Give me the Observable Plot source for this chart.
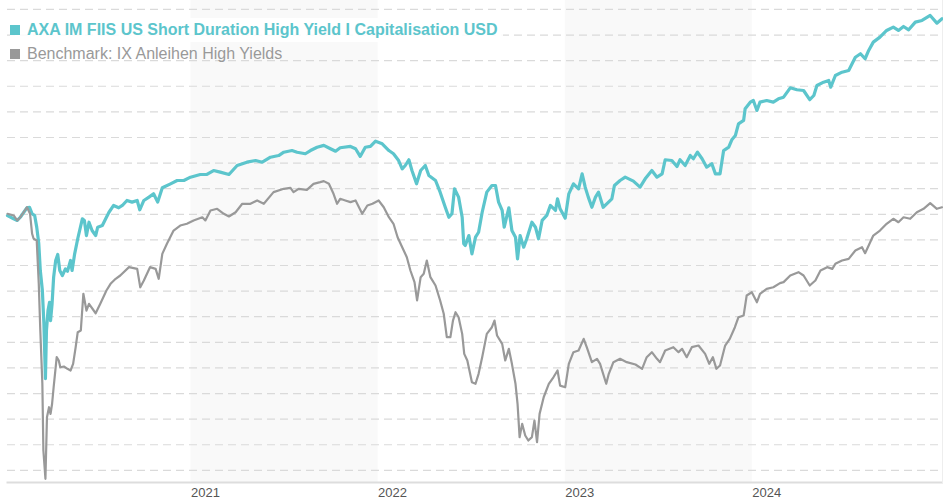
<!DOCTYPE html>
<html>
<head>
<meta charset="utf-8">
<script src="https://cdn.jsdelivr.net/npm/d3@7"></script>
<script src="https://cdn.jsdelivr.net/npm/@observablehq/plot@0.6"></script>
<style>
  html, body { margin: 0; padding: 0; background: #fff; }
  #wrap { position: relative; width: 943px; height: 500px; font-family: "Liberation Sans", Arial, sans-serif; }
  #legend { position: absolute; left: 10px; top: 17.5px; font-size: 16px; line-height: 24px; }
  .row { display: block; white-space: nowrap; }
  .row span.box { display: inline-block; width: 10px; height: 10px; margin-right: 7px; vertical-align: 0px; }
  .row1 { display: inline-block; background: rgba(255,255,255,0.88); padding-right: 5px; font-weight: bold; }
</style>
</head>
<body>
<div id="wrap"><div id="chart"></div><div id="legend"></div></div>
<script>
// ---- data (performance in %) ----
const seriesNames = [
  "AXA IM FIIS US Short Duration High Yield I Capitalisation USD",
  "Benchmark: IX Anleihen High Yields"
];
const seriesColors = ["#5cc5cc", "#999999"];
const yearTicks = ["2021", "2022", "2023", "2024"];
const shadedYears = ["2021", "2023"];
const gridValues = [-20, -18, -16, -14, -12, -10, -8, -6, -4, -2, 0, 2, 4, 6, 8, 10, 12, 14, 16];
const xDomain = ["2020-01-09", "2025-01-06"];
const yDomain = [-20.95, 16.7];

const fundSeries = [
  ["2020-01-09",-0.1],["2020-01-21",-0.35],["2020-01-28",-0.48],["2020-02-03",-0.23],["2020-02-16",0.51],
  ["2020-02-21",0.55],["2020-02-26",0.04],["2020-03-02",-0.1],["2020-03-06",-1.0],["2020-03-10",-2.28],
  ["2020-03-13",-4.39],["2020-03-17",-5.95],["2020-03-20",-8.53],["2020-03-23",-12.83],["2020-03-25",-9.08],
  ["2020-03-28",-7.52],["2020-03-31",-6.87],["2020-04-02",-8.3],["2020-04-05",-6.97],["2020-04-08",-4.91],
  ["2020-04-12",-3.61],["2020-04-16",-3.14],["2020-04-20",-4.39],["2020-04-25",-4.78],["2020-05-01",-4.26],
  ["2020-05-05",-4.45],["2020-05-11",-3.61],["2020-05-14",-4.39],["2020-05-19",-3.09],["2020-05-25",-1.91],
  ["2020-06-03",-0.35],["2020-06-07",-0.48],["2020-06-11",-1.66],["2020-06-16",-0.62],["2020-06-22",-1.27],
  ["2020-06-29",-1.66],["2020-07-03",-1.01],["2020-07-12",-0.88],["2020-07-20",-0.23],["2020-07-25",0.16],
  ["2020-08-03",0.69],["2020-08-13",0.51],["2020-08-20",0.69],["2020-08-29",1.08],["2020-09-08",0.95],
  ["2020-09-18",1.08],["2020-09-23",0.35],["2020-10-01",1.08],["2020-10-11",1.34],["2020-10-20",1.6],
  ["2020-10-28",0.95],["2020-11-06",2.07],["2020-11-22",2.38],["2020-12-05",2.64],["2020-12-18",2.64],
  ["2020-12-31",2.9],
  ["2021-01-19",3.11],["2021-02-01",3.11],["2021-02-14",3.42],["2021-02-27",3.29],["2021-03-16",3.11],
  ["2021-04-01",3.81],["2021-04-20",4.07],["2021-05-07",4.2],["2021-05-20",4.07],["2021-06-05",4.46],
  ["2021-06-21",4.59],["2021-07-01",4.85],["2021-07-17",4.98],["2021-07-27",4.85],["2021-08-12",4.73],
  ["2021-08-22",4.98],["2021-09-04",5.24],["2021-09-17",5.38],["2021-09-30",5.12],["2021-10-10",4.93],
  ["2021-10-19",5.2],["2021-11-08",5.3],["2021-11-18",5.12],["2021-11-27",4.52],["2021-12-07",5.24],
  ["2021-12-17",5.3],["2021-12-27",5.71],
  ["2022-01-09",5.51],["2022-01-22",4.98],["2022-01-31",4.73],["2022-02-10",4.2],["2022-02-17",3.55],
  ["2022-02-23",3.81],["2022-03-02",4.26],["2022-03-08",3.42],["2022-03-17",2.38],["2022-03-25",3.42],
  ["2022-04-03",3.81],["2022-04-10",3.03],["2022-04-23",2.64],["2022-05-02",1.73],["2022-05-12",0.55],
  ["2022-05-19",-0.23],["2022-05-25",0.04],["2022-05-30",1.99],["2022-06-07",1.34],["2022-06-14",-0.23],
  ["2022-06-17",-2.3],["2022-06-20",-2.44],["2022-06-27",-1.66],["2022-07-03",-3.09],["2022-07-10",-1.79],
  ["2022-07-16",-1.4],["2022-07-23",0.16],["2022-08-01",1.73],["2022-08-11",2.25],["2022-08-18",2.25],
  ["2022-08-24",0.95],["2022-08-31",0.3],["2022-09-04",-1.01],["2022-09-13",0.51],["2022-09-19",-1.27],
  ["2022-09-26",-1.79],["2022-09-30",-3.48],["2022-10-05",-1.66],["2022-10-12",-2.57],["2022-10-18",-1.91],
  ["2022-10-28",-0.62],["2022-11-04",-1.01],["2022-11-10",-1.91],["2022-11-17",-0.48],["2022-11-26",-0.09],
  ["2022-12-03",0.69],["2022-12-13",0.3],["2022-12-17",1.21],["2022-12-22",0.43],["2023-01-01",-0.3],
  ["2023-01-08",1.6],["2023-01-17",2.38],["2023-01-27",1.99],["2023-02-03",3.16],["2023-02-09",2.12],
  ["2023-02-15",1.34],["2023-02-22",0.55],["2023-03-01",1.34],["2023-03-07",1.73],["2023-03-16",0.55],
  ["2023-03-23",0.82],["2023-04-02",1.21],["2023-04-07",2.25],["2023-04-18",2.64],["2023-04-28",2.9],
  ["2023-05-14",2.59],["2023-05-27",2.12],["2023-06-06",2.77],["2023-06-19",3.42],["2023-06-29",2.9],
  ["2023-07-09",3.16],["2023-07-15",4.26],["2023-07-28",4.2],["2023-08-07",3.73],["2023-08-13",4.26],
  ["2023-08-23",3.81],["2023-09-02",4.59],["2023-09-08",4.34],["2023-09-16",4.85],["2023-09-25",4.34],
  ["2023-10-04",3.68],["2023-10-14",3.95],["2023-10-21",3.16],["2023-10-30",3.16],["2023-11-06",4.98],
  ["2023-11-16",5.24],["2023-11-22",5.82],["2023-11-29",6.16],["2023-12-05",7.07],["2023-12-15",7.33],
  ["2023-12-18",8.24],["2023-12-28",8.76],
  ["2024-01-03",8.89],["2024-01-10",8.11],["2024-01-16",8.76],["2024-01-29",8.89],["2024-02-11",8.76],
  ["2024-02-21",9.02],["2024-03-02",9.15],["2024-03-15",9.88],["2024-03-28",9.73],["2024-04-10",9.67],
  ["2024-04-22",8.95],["2024-04-30",9.28],["2024-05-06",10.06],["2024-05-19",10.32],["2024-05-29",10.45],
  ["2024-06-02",9.93],["2024-06-11",10.84],["2024-06-24",11.1],["2024-07-07",11.23],["2024-07-20",12.27],
  ["2024-07-30",12.54],["2024-08-08",12.15],["2024-08-15",12.8],["2024-08-24",13.45],["2024-09-06",13.84],
  ["2024-09-19",14.36],["2024-10-02",14.62],["2024-10-12",14.36],["2024-10-22",14.67],["2024-11-01",14.41],
  ["2024-11-14",15.01],["2024-11-27",15.14],["2024-12-13",15.53],["2024-12-26",14.93],["2025-01-05",15.27]
];

const benchSeries = [
  ["2020-01-09",0.04],["2020-01-21",-0.09],["2020-01-28",-0.48],["2020-02-03",-0.23],["2020-02-16",0.55],
  ["2020-02-22",0.04],["2020-02-26",-1.52],["2020-02-29",-1.91],["2020-03-06",-2.05],["2020-03-10",-5.43],
  ["2020-03-13",-9.08],["2020-03-17",-13.24],["2020-03-19",-18.45],["2020-03-23",-20.66],["2020-03-26",-15.85],
  ["2020-03-30",-15.07],["2020-04-02",-15.59],["2020-04-05",-14.8],["2020-04-08",-13.51],["2020-04-14",-11.16],
  ["2020-04-18",-11.42],["2020-04-21",-11.95],["2020-04-28",-11.89],["2020-05-05",-12.07],["2020-05-11",-12.2],
  ["2020-05-16",-11.68],["2020-05-21",-10.38],["2020-05-25",-9.21],["2020-05-31",-9.08],["2020-06-05",-6.21],
  ["2020-06-11",-7.52],["2020-06-16",-6.99],["2020-06-29",-7.73],["2020-07-08",-6.99],["2020-07-20",-5.95],
  ["2020-07-28",-5.43],["2020-08-07",-5.04],["2020-08-16",-4.78],["2020-09-02",-4.13],["2020-09-18",-4.26],
  ["2020-09-24",-5.7],["2020-10-01",-5.17],["2020-10-13",-4.13],["2020-10-24",-4.26],["2020-10-30",-5.04],
  ["2020-11-06",-3.09],["2020-11-15",-2.3],["2020-11-28",-1.27],["2020-12-11",-0.88],["2020-12-24",-0.74],
  ["2021-01-06",-0.48],["2021-01-23",-0.23],["2021-01-29",-0.48],["2021-02-08",0.3],["2021-02-21",0.43],
  ["2021-03-06",0.04],["2021-03-16",-0.17],["2021-03-29",0.16],["2021-04-11",0.82],["2021-04-27",0.82],
  ["2021-05-10",1.08],["2021-05-23",0.82],["2021-06-11",1.73],["2021-07-01",1.99],["2021-07-14",2.07],
  ["2021-07-20",1.73],["2021-07-30",1.99],["2021-08-15",1.91],["2021-08-28",2.38],["2021-09-10",2.51],
  ["2021-09-17",2.59],["2021-09-27",2.38],["2021-10-06",1.6],["2021-10-13",0.82],["2021-10-19",1.21],
  ["2021-10-29",1.08],["2021-11-08",0.95],["2021-11-18",1.08],["2021-12-01",0.04],["2021-12-11",0.69],
  ["2021-12-21",0.82],
  ["2022-01-02",1.08],["2022-01-12",0.55],["2022-01-22",-0.23],["2022-01-31",-0.74],["2022-02-08",-1.79],
  ["2022-02-17",-2.57],["2022-02-26",-3.35],["2022-03-05",-4.39],["2022-03-13",-5.3],["2022-03-18",-6.73],
  ["2022-03-25",-4.91],["2022-03-31",-4.65],["2022-04-06",-3.61],["2022-04-13",-4.91],["2022-04-23",-5.56],
  ["2022-05-02",-6.73],["2022-05-09",-7.77],["2022-05-15",-9.6],["2022-05-22",-9.6],["2022-05-27",-8.3],
  ["2022-06-01",-7.65],["2022-06-07",-8.04],["2022-06-14",-9.34],["2022-06-18",-10.9],["2022-06-24",-11.42],
  ["2022-07-03",-13.12],["2022-07-10",-13.24],["2022-07-16",-12.46],["2022-07-23",-11.16],["2022-08-01",-9.34],
  ["2022-08-11",-8.82],["2022-08-16",-8.3],["2022-08-21",-9.47],["2022-08-31",-10.12],["2022-09-06",-11.42],
  ["2022-09-13",-10.51],["2022-09-19",-11.68],["2022-09-26",-13.24],["2022-09-30",-14.8],["2022-10-04",-17.41],
  ["2022-10-09",-16.37],["2022-10-15",-17.28],["2022-10-21",-17.67],["2022-10-28",-17.41],["2022-11-02",-16.11],
  ["2022-11-07",-17.8],["2022-11-12",-15.59],["2022-11-20",-14.29],["2022-11-30",-13.24],["2022-12-09",-12.73],
  ["2022-12-17",-12.2],["2022-12-22",-13.38],
  ["2023-01-01",-13.51],["2023-01-08",-11.68],["2023-01-17",-10.77],["2023-01-27",-10.64],["2023-02-06",-9.73],
  ["2023-02-12",-10.38],["2023-02-22",-11.55],["2023-03-04",-11.29],["2023-03-10",-11.68],["2023-03-22",-13.24],
  ["2023-03-27",-12.46],["2023-04-05",-11.55],["2023-04-18",-11.29],["2023-05-01",-11.55],["2023-05-18",-11.73],
  ["2023-05-31",-12.07],["2023-06-09",-11.16],["2023-06-19",-10.77],["2023-06-29",-11.29],["2023-07-05",-11.55],
  ["2023-07-15",-10.64],["2023-07-31",-10.38],["2023-08-10",-10.77],["2023-08-17",-10.51],["2023-08-26",-11.16],
  ["2023-09-05",-10.38],["2023-09-18",-10.25],["2023-10-01",-10.9],["2023-10-09",-11.68],["2023-10-16",-11.16],
  ["2023-10-23",-12.07],["2023-10-30",-11.81],["2023-11-09",-10.25],["2023-11-18",-9.73],["2023-11-28",-8.82],
  ["2023-12-05",-8.04],["2023-12-15",-7.91],["2023-12-21",-6.34],["2023-12-31",-6.09],
  ["2024-01-10",-6.87],["2024-01-16",-6.21],["2024-01-29",-5.82],["2024-02-11",-5.7],["2024-02-24",-5.38],
  ["2024-03-02",-5.3],["2024-03-15",-4.78],["2024-03-31",-4.52],["2024-04-10",-4.78],["2024-04-22",-5.56],
  ["2024-05-03",-5.17],["2024-05-13",-4.39],["2024-05-26",-4.13],["2024-06-05",-4.26],["2024-06-11",-3.87],
  ["2024-06-24",-3.61],["2024-07-07",-3.48],["2024-07-20",-2.83],["2024-08-02",-2.57],["2024-08-08",-3.04],
  ["2024-08-15",-2.44],["2024-08-24",-1.66],["2024-09-06",-1.27],["2024-09-19",-0.74],["2024-10-02",-0.35],
  ["2024-10-12",-0.62],["2024-10-22",-0.23],["2024-11-04",-0.35],["2024-11-17",0.16],["2024-11-30",0.43],
  ["2024-12-13",0.87],["2024-12-26",0.43],["2025-01-05",0.55]
];

// ---- chart ----
const toDate = s => new Date(s);
const chart = Plot.plot({
  width: 943,
  height: 500,
  marginTop: 0,
  marginLeft: 7,
  marginRight: 1,
  marginBottom: 18,
  style: { fontFamily: '"Liberation Sans", Arial, sans-serif', background: "#fff" },
  x: { type: "utc", domain: xDomain.map(toDate) },
  y: { domain: yDomain, axis: null },
  marks: [
    Plot.rect(shadedYears, {
      x1: d => toDate(`${d}-01-01`),
      x2: d => toDate(`${+d + 1}-01-01`),
      fill: "#f9f9f9"
    }),
    Plot.ruleY(gridValues, { stroke: "#dadada", strokeWidth: 1.2, strokeDasharray: "8,5" }),
    Plot.frame({ anchor: "bottom", stroke: "#dddddd", strokeWidth: 2 }),
    Plot.frame({ anchor: "right", stroke: "#eeeeee", strokeWidth: 1 }),
    Plot.axisX(yearTicks.map(y => toDate(`${y}-01-01`)), {
      tickSize: 0,
      tickPadding: 5,
      tickFormat: d => yearTicks[yearTicks.indexOf(String(d.getUTCFullYear()))],
      textAnchor: "start",
      fontSize: 13,
      fill: "#555",
      label: null
    }),
    Plot.line(fundSeries, {
      x: d => toDate(d[0]), y: d => d[1],
      stroke: seriesColors[0], strokeWidth: 3.2, strokeLinejoin: "round", strokeLinecap: "round"
    }),
    Plot.line(benchSeries, {
      x: d => toDate(d[0]), y: d => d[1],
      stroke: seriesColors[1], strokeWidth: 2.2, strokeLinejoin: "round", strokeLinecap: "round"
    })
  ]
});
document.getElementById("chart").appendChild(chart);

// ---- legend (overlaid on the plot, top-left) ----
const legend = document.getElementById("legend");
seriesNames.forEach((name, i) => {
  const row = document.createElement("div");
  row.className = "row";
  const inner = document.createElement("span");
  if (i === 0) inner.className = "row1";
  inner.style.color = seriesColors[i];
  const box = document.createElement("span");
  box.className = "box";
  box.style.background = seriesColors[i];
  inner.appendChild(box);
  inner.appendChild(document.createTextNode(name));
  row.appendChild(inner);
  legend.appendChild(row);
});
</script>
</body>
</html>
